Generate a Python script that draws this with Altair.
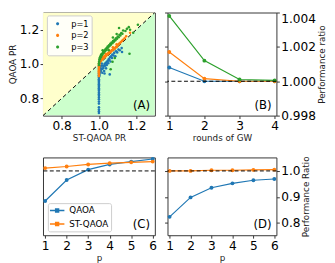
import altair as alt
import pandas as pd

FONT = "DejaVu Sans"
BLUE, ORANGE, GREEN = "#1f77b4", "#ff7f0e", "#2ca02c"

# ---------------- Panel A : scatter of PR values ----------------
p1_points = [
    (1.000, 0.715), (1.000, 0.725), (1.000, 0.735), (1.000, 0.748), (1.000, 0.770),
    (1.000, 0.782), (1.000, 0.795), (1.000, 0.805), (1.000, 0.815), (1.000, 0.825),
    (1.000, 0.835), (1.000, 0.845), (1.000, 0.852), (1.000, 0.860), (1.000, 0.868),
    (1.000, 0.875), (1.000, 0.882), (1.000, 0.890), (1.000, 0.897), (1.000, 0.905),
    (1.000, 0.912), (1.000, 0.920), (1.000, 0.926), (1.002, 0.930), (1.000, 0.935),
    (1.003, 0.940), (1.000, 0.945), (1.004, 0.950), (1.001, 0.955), (1.005, 0.958),
    (1.002, 0.962), (1.006, 0.966), (1.003, 0.970), (1.008, 0.972), (1.002, 0.976),
    (1.004, 0.980), (1.010, 0.975), (1.005, 0.985), (1.010, 0.960), (1.012, 0.990),
    (1.015, 0.970), (1.018, 0.950), (1.020, 0.992), (1.022, 0.975), (1.025, 0.985),
    (1.028, 0.960), (1.030, 1.000), (1.033, 0.990), (1.035, 1.005), (1.038, 0.975),
    (1.040, 1.010), (1.042, 0.995), (1.045, 1.015), (1.048, 1.020), (1.050, 1.005),
    (1.053, 1.030), (1.056, 1.025), (1.060, 1.040), (1.062, 1.015), (1.065, 1.045),
    (1.070, 1.035), (1.072, 1.055), (1.078, 1.050), (1.082, 1.065), (1.088, 1.045),
    (1.092, 1.075), (1.098, 1.068), (1.105, 1.085), (1.112, 1.080), (1.122, 1.093),
    (1.124, 1.070), (1.030, 0.945), (1.058, 0.940), (1.015, 1.003),
]
p2_points = [
    (1.000, 0.930), (1.000, 0.938), (1.000, 0.945), (1.000, 0.952), (1.000, 0.958),
    (1.000, 0.963), (1.000, 0.968), (1.000, 0.973), (1.000, 0.978), (1.001, 0.983),
    (1.000, 0.988), (1.001, 0.992), (1.000, 0.996), (1.002, 1.000), (1.001, 1.004),
    (1.003, 1.008), (1.004, 1.013), (1.006, 1.012), (1.008, 1.018), (1.010, 1.022),
    (1.012, 1.020), (1.014, 1.027), (1.017, 1.030), (1.020, 1.028), (1.022, 1.036),
    (1.025, 1.035), (1.028, 1.042), (1.030, 1.040), (1.033, 1.047), (1.036, 1.045),
    (1.038, 1.053), (1.041, 1.052), (1.044, 1.058), (1.047, 1.056), (1.050, 1.064),
    (1.053, 1.062), (1.056, 1.069), (1.060, 1.068), (1.063, 1.075), (1.066, 1.073),
    (1.070, 1.082), (1.073, 1.080), (1.077, 1.088), (1.080, 1.086), (1.084, 1.094),
    (1.088, 1.093), (1.092, 1.101), (1.096, 1.100), (1.100, 1.109), (1.104, 1.112),
    (1.108, 1.118), (1.113, 1.122), (1.118, 1.128), (1.124, 1.135), (1.130, 1.142),
    (1.138, 1.150), (1.146, 1.162), (1.167, 1.182), (1.020, 1.045), (1.035, 1.060),
    (1.055, 1.080), (1.075, 1.098), (1.095, 1.115),
]
p3_points = [
    (1.000, 0.995), (1.000, 1.005), (1.001, 1.015), (1.002, 1.025), (1.004, 1.035),
    (1.006, 1.030), (1.008, 1.045), (1.010, 1.040), (1.012, 1.055), (1.015, 1.050),
    (1.018, 1.062), (1.020, 1.058), (1.023, 1.070), (1.026, 1.066), (1.029, 1.078),
    (1.032, 1.074), (1.035, 1.086), (1.038, 1.082), (1.041, 1.094), (1.044, 1.090),
    (1.047, 1.102), (1.050, 1.097), (1.054, 1.110), (1.057, 1.105), (1.061, 1.118),
    (1.064, 1.113), (1.068, 1.126), (1.072, 1.121), (1.076, 1.134), (1.080, 1.130),
    (1.084, 1.142), (1.088, 1.138), (1.092, 1.150), (1.097, 1.147), (1.101, 1.160),
    (1.106, 1.156), (1.110, 1.170), (1.115, 1.166), (1.120, 1.180), (1.126, 1.176),
    (1.108, 1.210), (1.142, 1.192), (1.167, 1.200), (1.184, 1.182), (1.209, 1.229),
    (1.150, 1.205), (1.130, 1.195), (1.095, 1.175), (1.075, 1.155), (1.160, 1.215),
    (1.164, 1.060), (1.073, 1.014), (1.063, 0.970), (1.085, 1.035), (1.052, 1.080),
    (1.020, 1.080),
]
scatter_labels = ["p=1", "p=2", "p=3"]
diag_ends = [0.7, 1.3]
ref_level = [1.0]

# ---------------- Panel B : rounds of GW ----------------
gw_rounds = [1, 2, 3, 4]
gw_p1 = [1.0008, 1.0000, 1.0000, 1.0000]
gw_p2 = [1.0017, 1.00015, 1.0000, 1.0000]
gw_p3 = [1.0038, 1.0012, 1.0001, 1.00005]

# ---------------- Panels C, D : PR vs p ----------------
p_levels = [1, 2, 3, 4, 5, 6]
methods = ["QAOA", "ST-QAOA"]
c_qaoa = [0.884, 0.965, 1.005, 1.025, 1.036, 1.046]
c_stqaoa = [1.011, 1.017, 1.025, 1.030, 1.033, 1.036]
d_qaoa = [0.823, 0.898, 0.935, 0.952, 0.964, 0.969]
d_stqaoa = [1.000, 1.000, 1.0025, 1.0025, 1.004, 1.005]

# ---------------- tables ----------------
rows = []
for lab, pts in zip(scatter_labels, [p1_points, p2_points, p3_points]):
    for x, y in pts:
        rows.append({"st": x, "qaoa": y, "p": lab})
df_scatter = pd.DataFrame(rows)
df_diag = pd.DataFrame({"d": diag_ends})
df_ref = pd.DataFrame({"r": ref_level})

rows = []
for lab, vals in zip(scatter_labels, [gw_p1, gw_p2, gw_p3]):
    for r, v in zip(gw_rounds, vals):
        rows.append({"round": r, "pr": v, "p": lab})
df_gw = pd.DataFrame(rows)


def pdf(q, s):
    out = []
    for m, vals in zip(methods, [q, s]):
        for p, v in zip(p_levels, vals):
            out.append({"p": p, "pr": v, "method": m})
    return pd.DataFrame(out)


df_c = pdf(c_qaoa, c_stqaoa)
df_d = pdf(d_qaoa, d_stqaoa)

WA, WB = 115, 112
HT, HB = 106, 80

tab3 = alt.Scale(domain=scatter_labels, range=[BLUE, ORANGE, GREEN])
meth_scale = alt.Scale(domain=methods, range=[BLUE, ORANGE])


def panel_label(txt, w, h):
    return alt.Chart(pd.DataFrame({"t": [txt]})).mark_text(
        align="right", baseline="bottom", fontSize=12, font=FONT, color="black"
    ).encode(text="t:N", x=alt.value(w - 5), y=alt.value(h - 4))


# ---- A ----
sA = alt.Scale(domain=[0.7, 1.3], nice=False, zero=False)
axAx = alt.Axis(values=[0.8, 1.0, 1.2], format=".1f", title="ST-QAOA PR")
axAy = alt.Axis(values=[0.8, 1.0, 1.2], format=".1f", title="QAOA PR")
yellow = alt.Chart(df_diag).mark_area(color="#ffffcc", opacity=1, clip=True).encode(
    x=alt.X("d:Q", scale=sA, axis=axAx),
    y=alt.Y("d:Q", scale=sA, axis=axAy),
    y2=alt.datum(1.3),
)
greenf = alt.Chart(df_diag).mark_area(color="#ccffcc", opacity=1, clip=True).encode(
    x=alt.X("d:Q", scale=sA, axis=axAx),
    y=alt.Y("d:Q", scale=sA, axis=axAy),
    y2=alt.datum(0.7),
)
diag = alt.Chart(df_diag).mark_line(color="black", strokeDash=[4, 3], strokeWidth=1, clip=True).encode(
    x=alt.X("d:Q", scale=sA, axis=axAx),
    y=alt.Y("d:Q", scale=sA, axis=axAy),
)
dot_path = "M-0.2,0a0.2,0.2 0 1,0 0.4,0a0.2,0.2 0 1,0 -0.4,0Z"
scat = alt.Chart(df_scatter).mark_circle(size=7, opacity=1, clip=True).encode(
    x=alt.X("st:Q", scale=sA, axis=axAx),
    y=alt.Y("qaoa:Q", scale=sA, axis=axAy),
    color=alt.Color(
        "p:N", scale=tab3, sort=scatter_labels,
        legend=alt.Legend(
            orient="none", legendX=4, legendY=3, title=None,
            symbolType=dot_path, symbolSize=256, clipHeight=11,
            symbolStrokeWidth=0, symbolOpacity=1,
            labelFont=FONT, labelFontSize=8.5, labelOffset=6, rowPadding=1,
            padding=3, fillColor="rgba(255,255,255,0.85)", strokeColor="#cccccc",
            cornerRadius=2,
        ),
    ),
)
A = alt.layer(yellow, greenf, diag, scat, panel_label("(A)", WA, HT)).properties(width=WA, height=HT)

# ---- B ----
sBx = alt.Scale(domain=[0.95, 4.05], nice=False, zero=False)
sBy = alt.Scale(domain=[0.998, 1.004], nice=False, zero=False)
axBx = alt.Axis(values=gw_rounds, format="d", title="rounds of GW")
yB_vals = [0.998, 1.0, 1.002, 1.004]
axBleft = alt.Axis(orient="left", values=yB_vals, labels=False, title=None)
axBright = alt.Axis(
    orient="right", values=yB_vals, format=".3f", title="Performance ratio",
    titleAngle=270, titleBaseline="top",
    labelBaseline={"condition": {"test": "datum.value > 1.0035", "value": "top"}, "value": "middle"},
)
ruleB = alt.Chart(df_ref).mark_rule(color="black", strokeDash=[4, 2.5], strokeWidth=1).encode(
    y=alt.Y("r:Q", scale=sBy, axis=None)
)
linesB = alt.Chart(df_gw).mark_line(strokeWidth=1.2).encode(
    x=alt.X("round:Q", scale=sBx, axis=axBx),
    y=alt.Y("pr:Q", scale=sBy, axis=axBleft),
    color=alt.Color("p:N", scale=tab3, legend=None),
)
ptsB = alt.Chart(df_gw).mark_circle(size=16, opacity=1).encode(
    x=alt.X("round:Q", scale=sBx, axis=axBx),
    y=alt.Y("pr:Q", scale=sBy, axis=axBright),
    color=alt.Color("p:N", scale=tab3, legend=None),
)
B = alt.layer(linesB, ptsB, ruleB, panel_label("(B)", WB, HT)).resolve_scale(
    y="independent").properties(width=WB, height=HT)

# ---- C, D ----
sPx = alt.Scale(domain=[0.9, 6.1], nice=False, zero=False)
sPy = alt.Scale(domain=[0.752, 1.052], nice=False, zero=False)
axPx = alt.Axis(values=p_levels, format="d", title="p")
yP_vals = [0.8, 0.9, 1.0]
axPleft = alt.Axis(orient="left", values=yP_vals, labels=False, title=None)
axPright = alt.Axis(orient="right", values=yP_vals, format=".1f", title="Performance Ratio",
                    titleAngle=270, titleBaseline="top")
line_sym = "M-1,-0.1H1V0.1H-1Z M-0.3,-0.3H0.3V0.3H-0.3Z"


def pr_panel(df, label, w, h, right_axis, legend):
    ax_pts = axPright if right_axis else axPleft
    leg = None
    if legend:
        leg = alt.Legend(
            orient="none", legendX=5, legendY=h - 33, title=None,
            symbolType=line_sym, symbolSize=225, clipHeight=11,
            symbolStrokeWidth=0, symbolOpacity=1,
            labelFont=FONT, labelFontSize=9, labelOffset=5, rowPadding=3,
            padding=2, fillColor="rgba(255,255,255,0.85)", strokeColor="#cccccc",
            cornerRadius=2,
        )
    lines = alt.Chart(df).mark_line(strokeWidth=1.2).encode(
        x=alt.X("p:Q", scale=sPx, axis=axPx),
        y=alt.Y("pr:Q", scale=sPy, axis=axPleft),
        color=alt.Color("method:N", scale=meth_scale, sort=methods, legend=leg),
    )
    pts = alt.Chart(df).mark_circle(size=16, opacity=1).encode(
        x=alt.X("p:Q", scale=sPx, axis=axPx),
        y=alt.Y("pr:Q", scale=sPy, axis=ax_pts),
        color=alt.Color("method:N", scale=meth_scale, sort=methods, legend=leg),
    )
    rule = alt.Chart(df_ref).mark_rule(color="black", strokeDash=[4, 2.5], strokeWidth=1).encode(
        y=alt.Y("r:Q", scale=sPy, axis=None)
    )
    ch = alt.layer(lines, pts, rule, panel_label(label, w, h))
    if right_axis:
        ch = ch.resolve_scale(y="independent")
    return ch.properties(width=w, height=h)


C = pr_panel(df_c, "(C)", WA, HB, False, True)
D = pr_panel(df_d, "(D)", WB, HB, True, False)

chart = alt.concat(
    A, B, C, D, columns=2, spacing={"row": 43, "column": 13}, bounds="flush"
).resolve_scale(color="independent").properties(
    padding=0
).configure_view(
    stroke="#333333", strokeWidth=1
).configure_axis(
    domain=False, grid=False, labelFont=FONT, labelFontSize=12.5, labelColor="black",
    titleFont=FONT, titleFontSize=9, titleFontWeight="normal", titleColor="#222222",
    tickColor="#333333", tickSize=3, labelPadding=1.5, titlePadding=2, labelOverlap=False,
)

chart.save("out.html", embed_options={"renderer": "svg", "actions": False})
